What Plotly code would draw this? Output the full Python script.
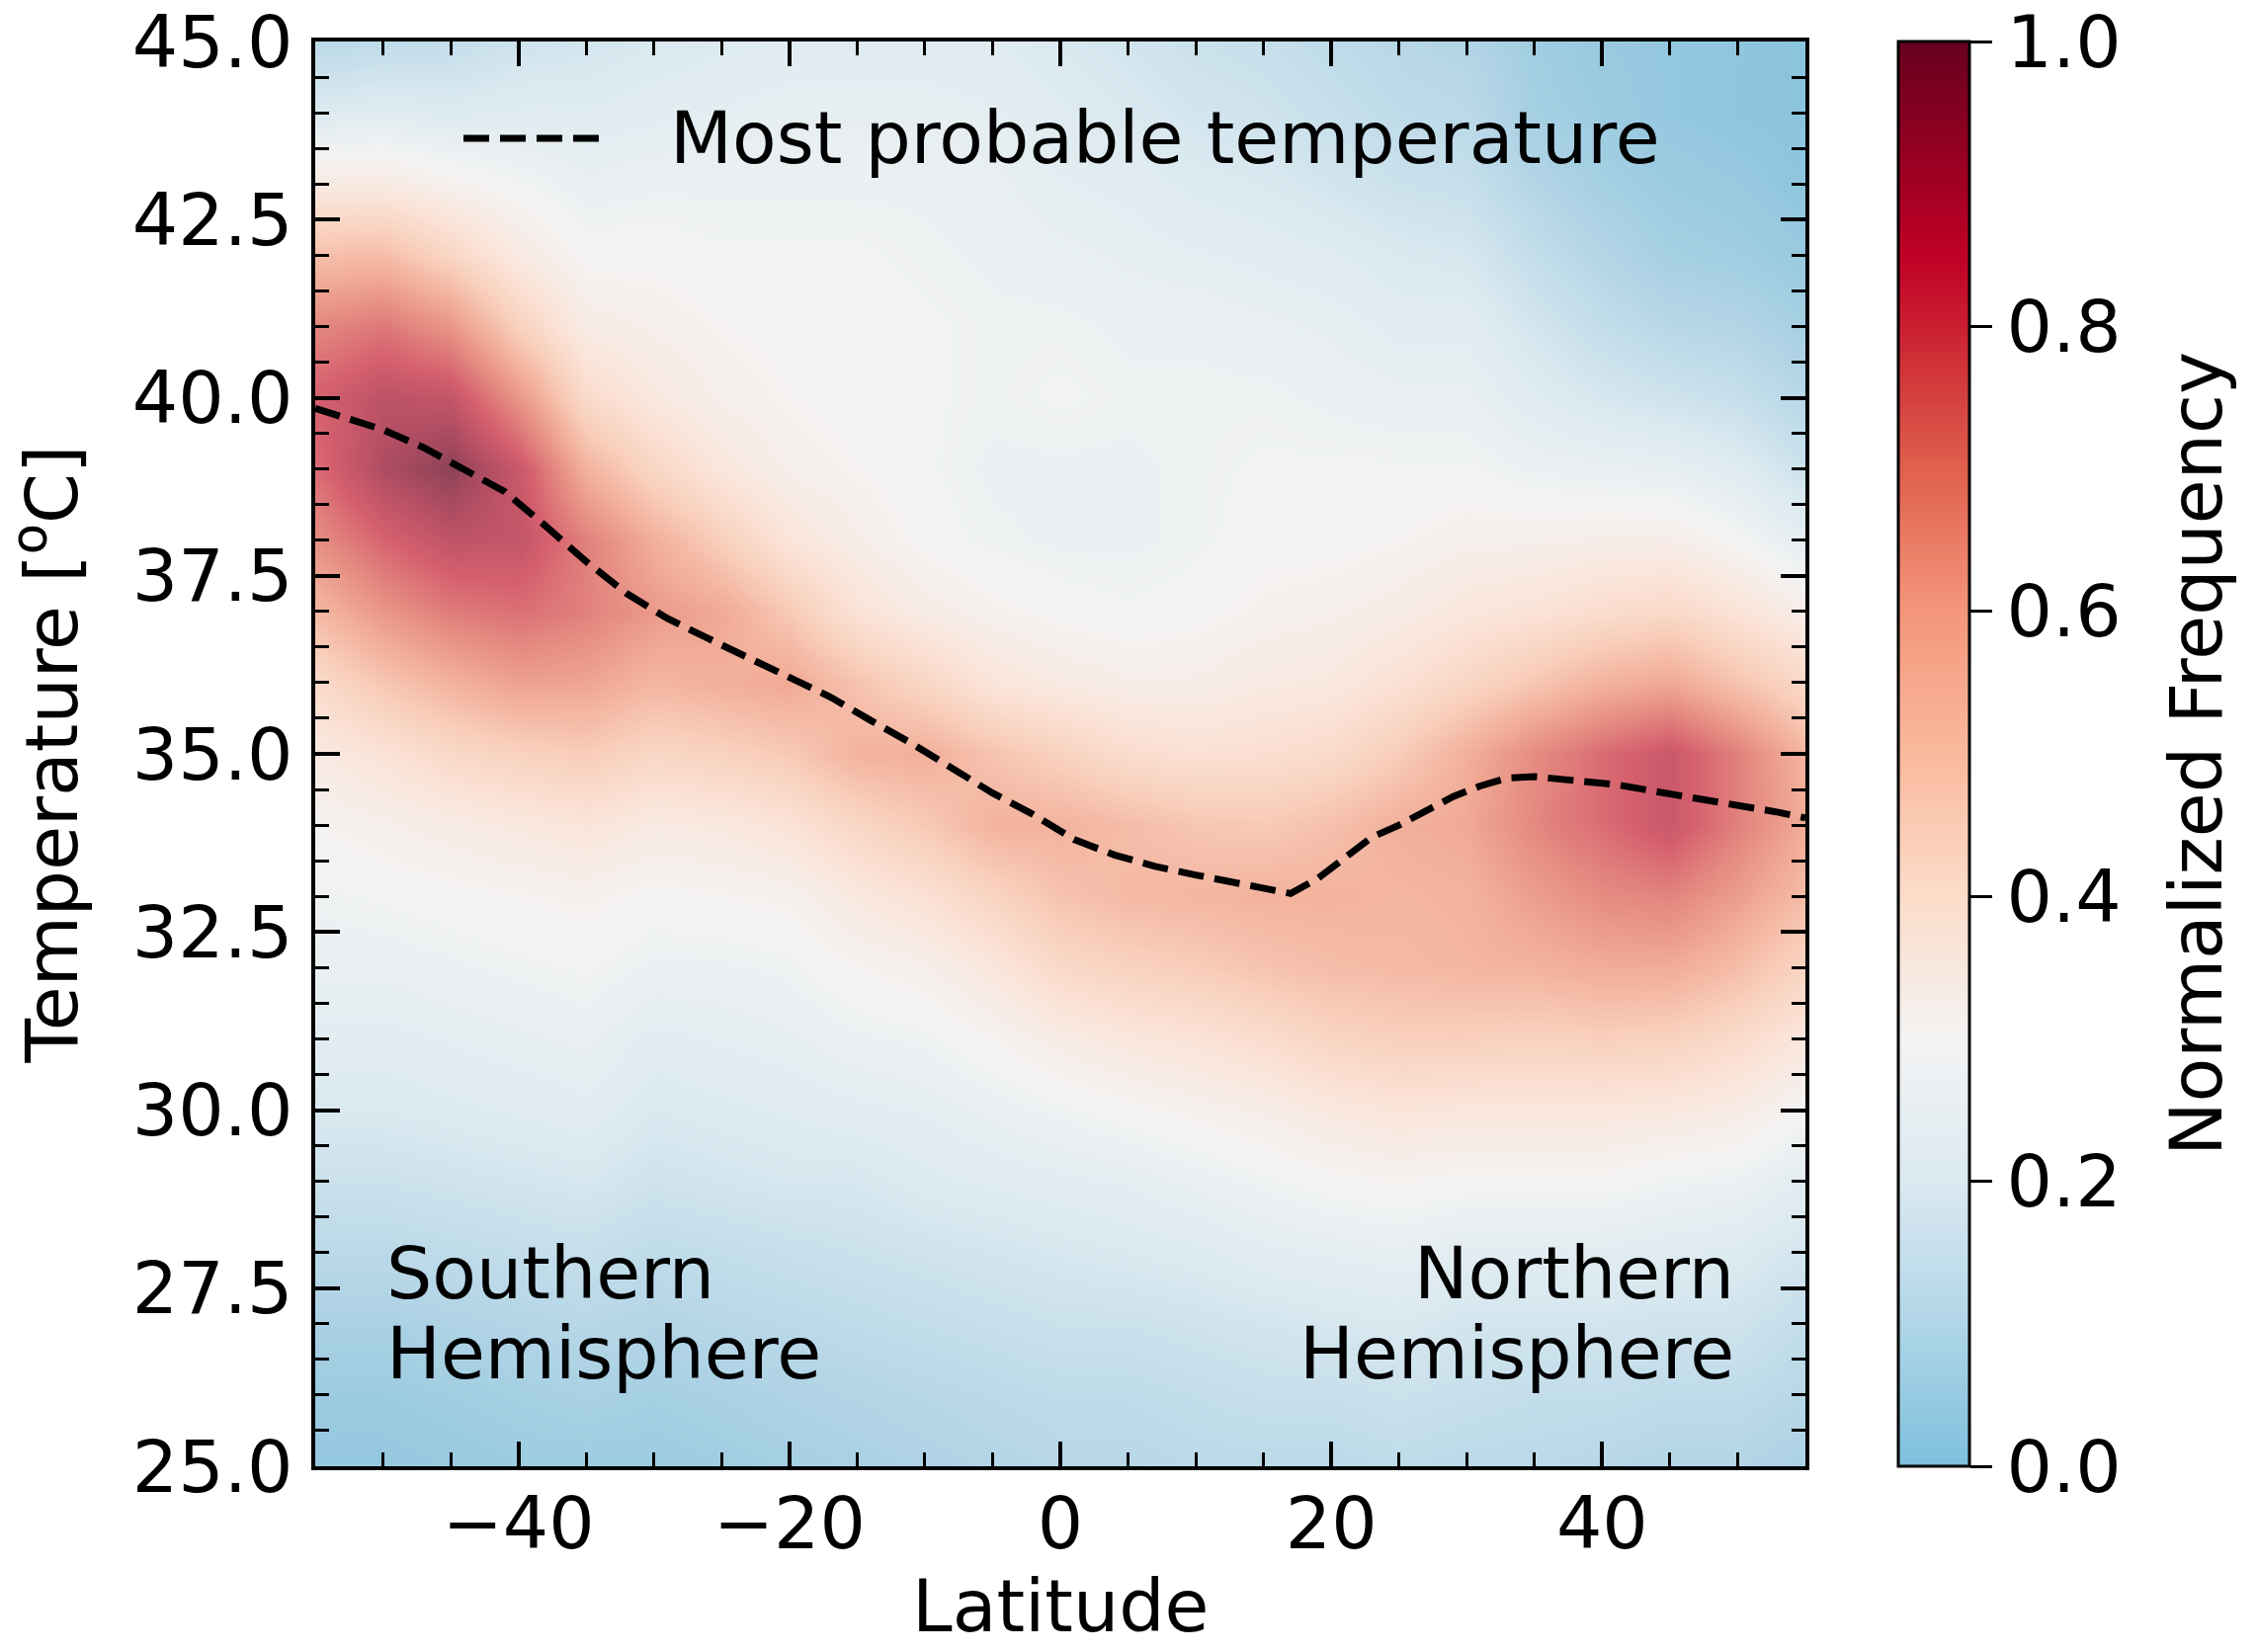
import numpy as np
import plotly.graph_objects as go

# ---- data -------------------------------------------------------------
# Grid of the normalized frequency field: one list per latitude column,
# each listing values for temperatures 25, 26, ..., 45 degC.
lat_grid = [-55, -50, -45, -40, -35, -30, -25, -20, -15, -10, -5, 0,
            5, 10, 15, 20, 25, 30, 35, 40, 45, 50, 55]
temp_grid = list(range(25, 46))

freq_by_lat = [
    [0.03, 0.05, 0.08, 0.12, 0.16, 0.20, 0.23, 0.26, 0.28, 0.31, 0.36, 0.44, 0.56, 0.68, 0.77, 0.80, 0.70, 0.54, 0.36, 0.21, 0.12],  # -55
    [0.03, 0.05, 0.08, 0.12, 0.16, 0.20, 0.23, 0.26, 0.29, 0.33, 0.40, 0.52, 0.66, 0.79, 0.92, 0.88, 0.74, 0.55, 0.36, 0.22, 0.13],  # -50
    [0.04, 0.06, 0.09, 0.13, 0.17, 0.21, 0.24, 0.27, 0.30, 0.35, 0.45, 0.58, 0.73, 0.87, 1.00, 0.86, 0.66, 0.46, 0.32, 0.21, 0.14],  # -45
    [0.05, 0.07, 0.10, 0.14, 0.18, 0.22, 0.25, 0.28, 0.31, 0.37, 0.48, 0.63, 0.76, 0.86, 0.84, 0.66, 0.48, 0.36, 0.29, 0.22, 0.17],  # -40
    [0.05, 0.08, 0.11, 0.15, 0.19, 0.23, 0.26, 0.29, 0.32, 0.39, 0.50, 0.62, 0.72, 0.72, 0.58, 0.44, 0.35, 0.30, 0.26, 0.22, 0.18],  # -35
    [0.05, 0.07, 0.10, 0.13, 0.17, 0.20, 0.23, 0.27, 0.30, 0.36, 0.46, 0.57, 0.65, 0.59, 0.46, 0.37, 0.33, 0.30, 0.27, 0.23, 0.20],  # -30
    [0.06, 0.08, 0.11, 0.14, 0.18, 0.21, 0.24, 0.27, 0.31, 0.37, 0.48, 0.59, 0.61, 0.49, 0.38, 0.33, 0.31, 0.29, 0.27, 0.24, 0.21],  # -25
    [0.07, 0.09, 0.12, 0.15, 0.19, 0.22, 0.25, 0.28, 0.32, 0.40, 0.51, 0.61, 0.51, 0.39, 0.33, 0.31, 0.30, 0.29, 0.27, 0.25, 0.22],  # -20
    [0.08, 0.10, 0.13, 0.16, 0.19, 0.23, 0.27, 0.31, 0.37, 0.46, 0.58, 0.53, 0.40, 0.34, 0.31, 0.30, 0.30, 0.29, 0.27, 0.25, 0.22],  # -15
    [0.09, 0.11, 0.14, 0.17, 0.21, 0.24, 0.28, 0.33, 0.41, 0.51, 0.59, 0.46, 0.35, 0.30, 0.29, 0.29, 0.29, 0.28, 0.27, 0.25, 0.22],  # -10
    [0.10, 0.12, 0.15, 0.18, 0.22, 0.26, 0.31, 0.38, 0.47, 0.58, 0.53, 0.39, 0.32, 0.28, 0.27, 0.28, 0.28, 0.27, 0.26, 0.24, 0.22],  # -5
    [0.11, 0.13, 0.16, 0.19, 0.23, 0.28, 0.35, 0.45, 0.53, 0.58, 0.48, 0.36, 0.30, 0.27, 0.27, 0.29, 0.28, 0.26, 0.24, 0.22, 0.20],  # 0
    [0.11, 0.13, 0.16, 0.20, 0.24, 0.30, 0.38, 0.48, 0.56, 0.55, 0.43, 0.34, 0.29, 0.27, 0.27, 0.28, 0.27, 0.25, 0.23, 0.20, 0.18],  # 5
    [0.12, 0.14, 0.17, 0.21, 0.26, 0.32, 0.40, 0.50, 0.57, 0.52, 0.41, 0.34, 0.30, 0.28, 0.28, 0.28, 0.27, 0.24, 0.21, 0.18, 0.16],  # 10
    [0.12, 0.15, 0.18, 0.23, 0.28, 0.34, 0.43, 0.53, 0.58, 0.51, 0.42, 0.36, 0.32, 0.30, 0.29, 0.28, 0.26, 0.23, 0.20, 0.17, 0.15],  # 15
    [0.12, 0.15, 0.19, 0.24, 0.30, 0.37, 0.47, 0.55, 0.58, 0.54, 0.44, 0.37, 0.33, 0.30, 0.29, 0.27, 0.25, 0.22, 0.18, 0.15, 0.13],  # 20
    [0.13, 0.16, 0.20, 0.25, 0.31, 0.39, 0.49, 0.56, 0.57, 0.59, 0.50, 0.41, 0.35, 0.31, 0.29, 0.26, 0.23, 0.20, 0.16, 0.13, 0.11],  # 25
    [0.12, 0.15, 0.18, 0.23, 0.30, 0.38, 0.49, 0.57, 0.58, 0.61, 0.59, 0.46, 0.38, 0.33, 0.29, 0.26, 0.23, 0.19, 0.15, 0.12, 0.10],  # 30
    [0.12, 0.14, 0.18, 0.23, 0.30, 0.38, 0.48, 0.58, 0.64, 0.70, 0.69, 0.52, 0.40, 0.33, 0.27, 0.22, 0.18, 0.14, 0.10, 0.07, 0.06],  # 35
    [0.11, 0.14, 0.18, 0.23, 0.30, 0.38, 0.49, 0.60, 0.69, 0.77, 0.77, 0.58, 0.43, 0.34, 0.26, 0.19, 0.14, 0.10, 0.07, 0.05, 0.04],  # 40
    [0.10, 0.13, 0.17, 0.22, 0.28, 0.37, 0.48, 0.60, 0.71, 0.84, 0.84, 0.61, 0.45, 0.34, 0.25, 0.17, 0.11, 0.07, 0.05, 0.03, 0.03],  # 45
    [0.10, 0.13, 0.17, 0.21, 0.27, 0.35, 0.44, 0.55, 0.64, 0.72, 0.72, 0.53, 0.40, 0.30, 0.22, 0.15, 0.10, 0.06, 0.04, 0.02, 0.02],  # 50
    [0.08, 0.11, 0.14, 0.18, 0.23, 0.30, 0.38, 0.47, 0.55, 0.60, 0.57, 0.45, 0.34, 0.24, 0.16, 0.11, 0.07, 0.04, 0.02, 0.01, 0.01],  # 55
]

# Most probable temperature for each latitude
mode_lat = [-55, -50, -47, -44, -41, -38, -35, -32, -29, -26, -23, -20, -17,
            -14, -11, -8, -5, -2, 1, 4, 7, 10, 13, 16, 17, 19, 21, 23, 25,
            27, 29, 31, 33, 35, 38, 41, 44, 47, 50, 53, 55]
mode_temp = [39.85, 39.55, 39.30, 39.00, 38.68, 38.20, 37.70, 37.25, 36.90,
             36.62, 36.35, 36.07, 35.80, 35.47, 35.15, 34.80, 34.45, 34.15,
             33.80, 33.58, 33.42, 33.30, 33.18, 33.07, 33.04, 33.25, 33.55,
             33.83, 34.00, 34.20, 34.40, 34.55, 34.66, 34.68, 34.63, 34.57,
             34.47, 34.38, 34.28, 34.18, 34.10]

cbar_ticks = [0.0, 0.2, 0.4, 0.6, 0.8, 1.0]

# ---- colours ------------------------------------------------------------
# colour bar scale
bar_scale = [
    [0.00, "#7dc0dc"], [0.10, "#b0d6e8"], [0.20, "#dbe9f1"], [0.30, "#f3f3f3"],
    [0.40, "#fcdcc9"], [0.50, "#f9b99d"], [0.60, "#f4967a"], [0.70, "#e0604d"],
    [0.75, "#d4413f"], [0.80, "#cb1f31"], [0.85, "#c00026"], [0.90, "#a20022"],
    [1.00, "#67001f"],
]
# the field itself is drawn slightly washed out over the white background
heat_scale = [
    [0.00, "#86c2dc"], [0.10, "#b3d5e6"], [0.20, "#dae9f0"], [0.30, "#f3f3f3"],
    [0.40, "#fbe3d7"], [0.50, "#f8cdb9"], [0.60, "#f1ac97"], [0.70, "#e48880"],
    [0.80, "#d5606e"], [0.90, "#b64f64"], [1.00, "#8c4257"],
]

FONT = "DejaVu Sans"
FS = 73

W, H = 2285, 1672
ML, MR, MT, MB = 319, 458, 42, 188
PW, PH = W - ML - MR, H - MT - MB


def px_x(px):
    return (px - ML) / PW


def px_y(py):
    return 1 - (py - MT) / PH


z = np.array(freq_by_lat).T

fig = go.Figure()

fig.add_trace(go.Heatmap(
    x=lat_grid, y=temp_grid, z=z, zmin=0, zmax=1, zsmooth="best",
    colorscale=heat_scale, showscale=False, hoverinfo="skip",
))

fig.add_trace(go.Scatter(
    x=mode_lat, y=mode_temp, mode="lines", name="Most probable temperature",
    line=dict(color="black", width=7, dash="26px,11px"), showlegend=False,
))

# colour bar
fig.add_trace(go.Scatter(
    x=[None], y=[None], mode="markers", showlegend=False, hoverinfo="skip",
    marker=dict(
        color=[0], cmin=0, cmax=1, colorscale=bar_scale, showscale=True,
        colorbar=dict(
            x=px_x(1921), xanchor="left", xpad=0, y=0.5, yanchor="middle",
            len=1, lenmode="fraction", ypad=0, thickness=72,
            outlinewidth=3, outlinecolor="black",
            ticks="outside", ticklen=22, tickwidth=3, tickcolor="black",
            tickmode="array", tickvals=cbar_ticks, tickformat=".1f",
            ticklabeloverflow="allow",
            tickfont=dict(family=FONT, size=FS, color="black"),
        ),
    ),
))

axis_common = dict(
    showgrid=False, zeroline=False, showline=True, linecolor="black",
    linewidth=4, mirror="allticks", ticks="inside", ticklen=25,
    tickwidth=3.5, tickcolor="black", ticklabeloverflow="allow",
    tickfont=dict(family=FONT, size=FS, color="black"),
)

fig.update_xaxes(
    range=[-55, 55], tick0=0, dtick=20, ticklabelstandoff=-9,
    minor=dict(dtick=5, tick0=0, ticks="inside", ticklen=14, tickwidth=3,
               tickcolor="black", showgrid=False),
    **axis_common,
)
fig.update_yaxes(
    range=[25, 45], tick0=25, dtick=2.5, tickformat=".1f", ticklabelstandoff=4,
    minor=dict(dtick=0.5, tick0=25, ticks="inside", ticklen=14, tickwidth=3,
               tickcolor="black", showgrid=False),
    title=dict(text="Temperature [<sup>o</sup>C]",
               font=dict(family=FONT, size=FS, color="black"), standoff=41),
    **axis_common,
)

# legend entry for the dashed line
fig.add_shape(type="line", xref="paper", yref="paper",
              x0=px_x(469), x1=px_x(612), y0=px_y(140), y1=px_y(140),
              line=dict(color="black", width=7, dash="26px,11px"))

text_font = dict(family=FONT, size=FS, color="black")
annotations = [
    dict(text="Most probable temperature", x=px_x(676), y=px_y(140),
         xanchor="left", yanchor="middle"),
    dict(text="Southern", x=px_x(389), y=px_y(1288), xanchor="left", yanchor="middle"),
    dict(text="Hemisphere", x=px_x(389), y=px_y(1369), xanchor="left", yanchor="middle"),
    dict(text="Northern", x=px_x(1757), y=px_y(1288), xanchor="right", yanchor="middle"),
    dict(text="Hemisphere", x=px_x(1757), y=px_y(1369), xanchor="right", yanchor="middle"),
    # x-axis title, kept just inside the bottom edge
    dict(text="Latitude", x=0.5, y=px_y(1670), xanchor="center", yanchor="bottom"),
    # colour bar title
    dict(text="Normalized Frequency", x=px_x(2222), y=0.5, textangle=-90,
         xanchor="center", yanchor="middle"),
]
for a in annotations:
    fig.add_annotation(xref="paper", yref="paper", showarrow=False,
                       font=text_font, **a)

fig.update_layout(
    width=W, height=H, autosize=False,
    margin=dict(l=ML, r=MR, t=MT, b=MB, pad=0, autoexpand=False),
    paper_bgcolor="white", plot_bgcolor="white",
    font=dict(family=FONT, size=FS, color="black"),
    showlegend=False,
)

fig.write_html("out.html")
